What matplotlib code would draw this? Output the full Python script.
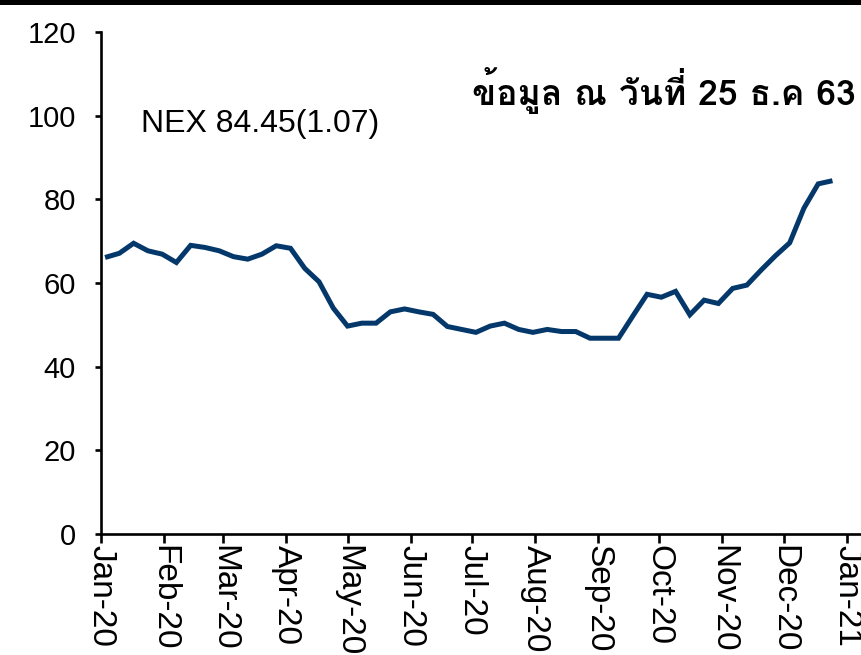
import datetime as dt
import matplotlib
matplotlib.use("Agg")
import matplotlib.pyplot as plt
import matplotlib.dates as mdates
from matplotlib import font_manager
from matplotlib.patches import Rectangle

# ---------------- data ----------------
start_date = dt.date(2020, 1, 3)
n_weeks = 52
dates = [start_date + dt.timedelta(days=7 * i) for i in range(n_weeks)]
nex_values = [66.1, 67.1, 69.5, 67.7, 66.9, 64.9, 69.0, 68.5, 67.7, 66.3,
              65.7, 66.9, 68.9, 68.3, 63.5, 60.3, 54.0, 49.7, 50.4, 50.4,
              53.1, 53.8, 53.1, 52.5, 49.6, 48.9, 48.2, 49.7, 50.4, 48.9,
              48.2, 48.9, 48.4, 48.4, 46.8, 46.8, 46.8, 52.1, 57.3, 56.6,
              58.0, 52.4, 55.9, 55.1, 58.7, 59.5, 63.1, 66.5, 69.6, 77.9,
              83.7, 84.45]
y_ticks = [0, 20, 40, 60, 80, 100, 120]
month_ticks = [dt.date(2020, m, 1) for m in range(1, 13)] + [dt.date(2021, 1, 1)]
label_nex = "NEX 84.45(1.07)"
label_date = "ข้อมูล ณ วันที่ 25 ธ.ค 63"

LINE_COLOR = "#04386a"

# ---------------- fonts ----------------
def find_thai_font():
    try:
        from fontTools.ttLib import TTFont
    except Exception:
        return None
    best = None
    for f in font_manager.fontManager.ttflist:
        try:
            tt = TTFont(f.fname, fontNumber=0, lazy=True)
            cmap = tt.getBestCmap()
        except Exception:
            continue
        if cmap and 0x0E02 in cmap and 0x0E49 in cmap:
            w = f.weight if isinstance(f.weight, int) else (700 if 'bold' in str(f.weight).lower() else 400)
            score = (w >= 600, 'noto' in f.name.lower() or 'loma' in f.name.lower() or 'tahoma' in f.name.lower())
            if best is None or score > best[0]:
                best = (score, f.name)
    return best[1] if best else None

thai_family = find_thai_font()
base_font = "Liberation Sans"

# ---------------- figure ----------------
W, H = 861, 655
fig = plt.figure(figsize=(W / 100, H / 100), dpi=100)
fig.patch.set_facecolor("white")

ax_left, ax_right = 101, 861
ax_top, ax_bottom = 32, 534
ax = fig.add_axes([ax_left / W, (H - ax_bottom) / H,
                   (ax_right - ax_left) / W, (ax_bottom - ax_top) / H])

ax.plot(dates, nex_values, color=LINE_COLOR, linewidth=3.6,
        solid_joinstyle="miter", solid_capstyle="butt", clip_on=False)

ax.set_ylim(0, 120)
ax.set_xlim(dt.date(2020, 1, 1), dt.date(2021, 1, 8))
ax.set_yticks(y_ticks)
ax.set_yticklabels([str(v) for v in y_ticks], fontfamily=base_font, fontsize=21)
ax.set_xticks(month_ticks)
ax.xaxis.set_major_formatter(mdates.DateFormatter("%b-%y"))
for lab in ax.get_xticklabels():
    lab.set_rotation(-90)
    lab.set_fontfamily(base_font)
    lab.set_fontsize(24)
    lab.set_ha("center")
    lab.set_va("top")

for side in ("top", "right"):
    ax.spines[side].set_visible(False)
for side in ("left", "bottom"):
    ax.spines[side].set_linewidth(1.9)
    ax.spines[side].set_color("black")

ax.tick_params(axis="y", direction="out", length=4, width=1.9, pad=14, colors="black")
ax.tick_params(axis="x", direction="out", length=6.5, width=1.9, pad=1.5, colors="black")

# black band at top
fig.patches.append(Rectangle((0, 1 - 5 / H), 1, 5 / H, transform=fig.transFigure,
                             facecolor="black", edgecolor="none", zorder=10))

# annotations
fig.text(141 / W, (H - 132) / H, label_nex, fontfamily=base_font, fontsize=23,
         ha="left", va="baseline", color="black")

thai_fam = [thai_family, "DejaVu Sans"] if thai_family else ["DejaVu Sans"]
t = fig.text(856 / W, (H - 105) / H, label_date, family=thai_fam, fontweight="bold",
             fontsize=22, ha="right", va="baseline", color="black")
# fit to target width (~384 px)
fig.canvas.draw()
r = fig.canvas.get_renderer()
bb = t.get_window_extent(renderer=r)
if bb.width > 0:
    t.set_fontsize(22 * 384 / bb.width)

fig.savefig("out.png", dpi=100, facecolor="white")
